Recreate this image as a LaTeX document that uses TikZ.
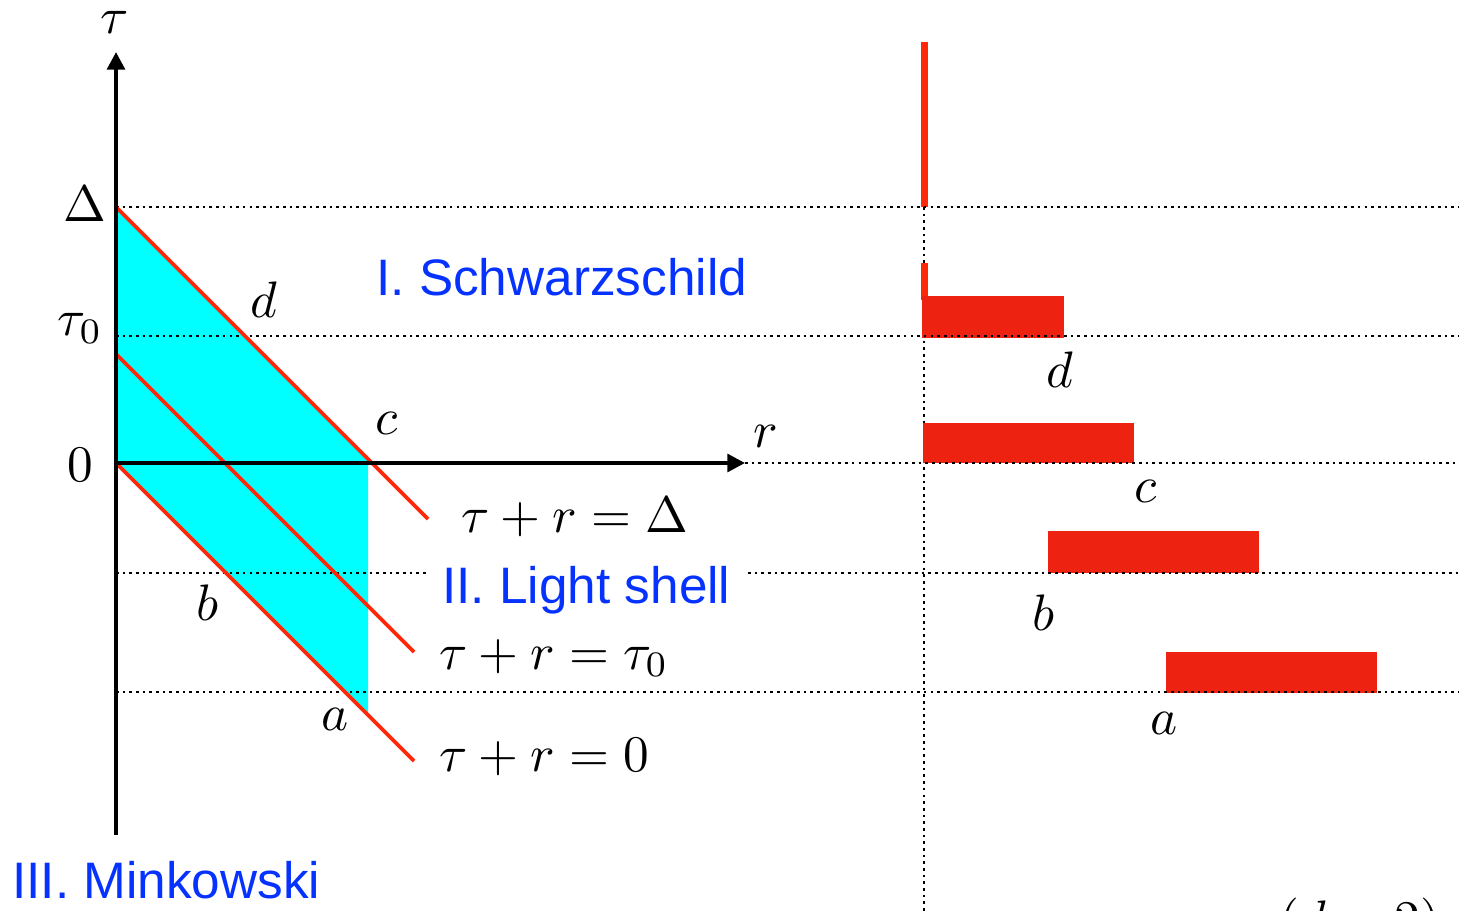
\documentclass[tikz,border=0pt]{standalone}
\usepackage{fontspec}
\newfontfamily\lblfont{Liberation Sans}
\usetikzlibrary{arrows.meta}
\definecolor{shellcyan}{RGB}{0,255,255}
\definecolor{linered}{RGB}{255,40,8}
\definecolor{barred}{RGB}{238,34,17}
\definecolor{regionblue}{RGB}{5,50,255}
\newcommand\bigmath[1]{\scalebox{2.92}{$#1$}}
\begin{document}
\begin{tikzpicture}[x=0.02cm,y=-0.02cm,
  axisline/.style={line width=2.3pt,-{Triangle[length=10pt,width=10pt]}},
  guide/.style={line width=1.6pt,dash pattern=on 1.5pt off 2.3pt},
  ray/.style={draw=linered,line width=2.1pt},
  thinbar/.style={fill=linered},
  thickbar/.style={fill=barred},
  mlbl/.style={font=\fontsize{10}{12}\selectfont,inner sep=0pt,anchor=base},
  mlblw/.style={mlbl,anchor=base west},
  region/.style={font=\lblfont\fontsize{29.2}{34}\selectfont,text=regionblue,inner sep=0pt,anchor=base west}]
\useasboundingbox (0,0) rectangle (1459,911);

% key coordinates
\coordinate (O) at (116,463);
\coordinate (Ttop) at (116,52);
\coordinate (Tbot) at (116,835);
\coordinate (Rtip) at (745,463);
\coordinate (D0) at (116,207);
\coordinate (D1) at (428,519);
\coordinate (T0) at (116,354);
\coordinate (T1) at (414,652);
\coordinate (Z1) at (414,761);
\coordinate (CyA) at (368,459);
\coordinate (CyB) at (368,715);

% shaded light shell
\fill[shellcyan] (D0) -- (CyA) -- (CyB) -- (O) -- cycle;

% vertical guide on the right
\coordinate (V0) at (924,207);
\coordinate (V1) at (924,911);
\draw[guide] (V0) -- (V1);

% bars on the right
\fill[thinbar] (921,42) rectangle (928,207);
\fill[thinbar] (921,263) rectangle (928,300);
\fill[thickbar] (922,296) rectangle (1064,338);
\fill[thickbar] (923,423) rectangle (1134,463);
\fill[thickbar] (1048,531) rectangle (1259,573);
\fill[thickbar] (1166,652) rectangle (1377,693);

% horizontal guides
\coordinate (GDl) at (116,207);  \coordinate (GDr) at (1459,207);
\coordinate (GTl) at (116,336);  \coordinate (GTr) at (1459,336);
\coordinate (GOr) at (1459,463);
\coordinate (GBl) at (116,573);  \coordinate (GBm) at (428,573);
\coordinate (GBn) at (748,573);  \coordinate (GBr) at (1459,573);
\coordinate (GAl) at (116,692);  \coordinate (GAr) at (1459,692);
\draw[guide] (GDl) -- (GDr);
\draw[guide] (GTl) -- (GTr);
\draw[guide] (Rtip) -- (GOr);
\draw[guide] (GBl) -- (GBm);
\draw[guide] (GBn) -- (GBr);
\draw[guide] (GAl) -- (GAr);

% null lines
\draw[ray] (D0) -- (D1);
\draw[ray] (T0) -- (T1);
\draw[ray] (O) -- (Z1);

% axes
\draw[axisline] (Tbot) -- (Ttop);
\draw[axisline] (O) -- (Rtip);

% axis labels
\node[mlbl] (ltau) at (115,34) {\bigmath{\tau}};
\node[mlbl] (lr) at (766,448) {\bigmath{r}};
\node[mlbl] (lDelta) at (85,222) {\bigmath{\Delta}};
\node[mlbl] (ltau0) at (80,336) {\bigmath{\tau_0}};
\node[mlbl] (lzero) at (80,481) {\bigmath{0}};

% point labels on the left
\node[mlbl] (pd) at (264,318) {\bigmath{d}};
\node[mlbl] (pc) at (387,435) {\bigmath{c}};
\node[mlbl] (pb) at (208,620) {\bigmath{b}};
\node[mlbl] (pa) at (335,730) {\bigmath{a}};

% line equations
\node[mlblw] (eqD) at (461,532) {\bigmath{\tau+r=\Delta}};
\node[mlblw] (eqT) at (439,669) {\bigmath{\tau+r=\tau_0}};
\node[mlblw] (eqZ) at (439,771) {\bigmath{\tau+r=0}};

% point labels on the right
\node[mlbl] (qd) at (1060,388) {\bigmath{d}};
\node[mlbl] (qc) at (1146,502) {\bigmath{c}};
\node[mlbl] (qb) at (1043,630) {\bigmath{b}};
\node[mlbl] (qa) at (1164,734) {\bigmath{a}};

% region names
\node[region] (rI) at (376,296) {I. Schwarzschild};
\node[region] (rII) at (442,603) {II. Light shell};
\node[region] (rIII) at (12,898) {III. Minkowski};

% dimension note (cut by the frame)
\node[mlblw] (dim) at (1279,936) {\bigmath{(d=2)}};
\end{tikzpicture}
\end{document}
